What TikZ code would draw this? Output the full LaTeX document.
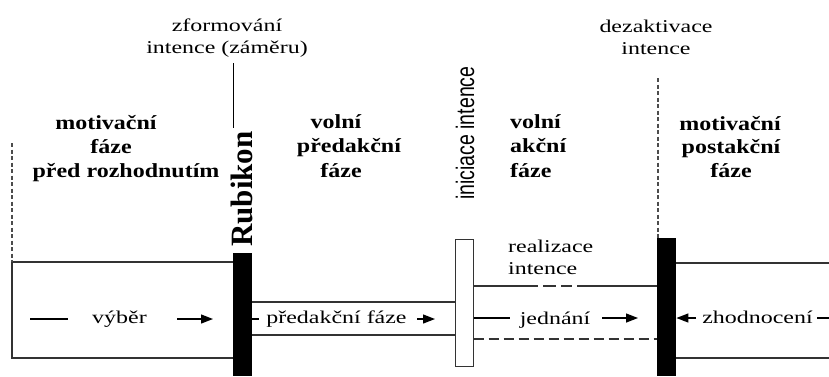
\documentclass[tikz,border=0pt]{standalone}
\usepackage{fontspec}
\setmainfont{Liberation Serif}[FakeStretch=1.33]
\newfontfamily\rubfont{Liberation Serif}
\newfontfamily\sidefont{Liberation Sans}
\usetikzlibrary{arrows.meta}
% one widened line of a phase heading
\newcommand{\phline}[1]{\scalebox{1.2}[1]{#1}}

\begin{document}
\begin{tikzpicture}[x=1pt,y=-1pt,
  lbl/.style={font=\fontsize{18}{22}\selectfont, inner sep=0pt, anchor=base},
  phasehead/.style={font=\rubfont\bfseries\fontsize{20}{24}\selectfont, inner sep=0pt, anchor=base},
  rule/.style={line width=1.2pt, draw=black!80},
  guide/.style={line width=1.3pt, draw=black!70, dash pattern=on 4pt off 2.5pt},
  arr/.style={line width=1.3pt, draw=black, -{Triangle[length=12pt,width=9pt]}},
  bar/.style={fill=black, inner sep=0pt, minimum width=19pt, anchor=north west},
]
\useasboundingbox (0,0) rectangle (829,376);

% bars and the initiation box
\node[bar, minimum height=123pt] (rubibar) at (233,253) {};
\node[bar, minimum height=138pt] (deactbar) at (657,238) {};
\node[draw=black!80, line width=1.2pt, fill=white, inner sep=0pt,
      minimum width=18pt, minimum height=127pt, anchor=north west] (initbox) at (454.5,238.5) {};

% phase boxes
\coordinate (chTL) at (12,262);
\coordinate (chBL) at (12,358);
\draw[rule] (rubibar.west |- chTL) -- (chTL) -- (chBL) -- (rubibar.west |- chBL);
\draw[rule] (rubibar.east |- 0,302) -- (initbox.west |- 0,302);
\draw[rule] (rubibar.east |- 0,335) -- (initbox.west |- 0,335);
\draw[rule] (initbox.east |- 0,286) -- (538,286) (543,286) -- (556,286)
            (561,286) -- (572,286) (577,286) -- (deactbar.west |- 0,286);
\draw[rule, dash pattern=on 10pt off 5pt] (initbox.east |- 0,339) -- (deactbar.west |- 0,339);
\coordinate (evR1) at (829,263);
\coordinate (evR2) at (829,358);
\draw[rule] (deactbar.east |- evR1) -- (evR1);
\draw[rule] (deactbar.east |- evR2) -- (evR2);

% guide lines
\coordinate (g1top) at (12,143);
\draw[guide] (g1top) -- (chTL);
\coordinate (g2top) at (658,78);
\draw[guide] (g2top) -- (g2top |- deactbar.north);
\coordinate (zfA) at (233.5,63);
\coordinate (zfB) at (233.5,128);
\draw[rule, draw=black] (zfA) -- (zfB);

% flow marks
\coordinate (v1) at (30,319);  \coordinate (v2) at (68,319);
\coordinate (v3) at (177,319); \coordinate (v4) at (213,319);
\draw[line width=1.3pt] (v1) -- (v2);
\draw[arr] (v3) -- (v4);
\coordinate (p1) at (259,319);
\draw[line width=1.3pt] (rubibar.east |- p1) -- (p1);
\coordinate (p2) at (417,319); \coordinate (p3) at (435,319);
\draw[arr] (p2) -- (p3);
\coordinate (j1) at (510,318);
\draw[line width=1.3pt] (initbox.east |- j1) -- (j1);
\coordinate (j2) at (602,318); \coordinate (j3) at (638,318);
\draw[arr] (j2) -- (j3);
\coordinate (z1) at (696,318);
\draw[arr] (z1) -- (deactbar.east |- z1);
\coordinate (z2) at (817,318); \coordinate (z3) at (829,318);
\draw[line width=1.3pt] (z2) -- (z3);

% labels (a multi-line node sits on the baseline of its last line)
\node[lbl] (vyber) at (119.5,323) {výběr};
\node[lbl] (predfaze) at (336.5,323) {předakční fáze};
\node[lbl] (jednani) at (555,324) {jednání};
\node[lbl] (zhodnoceni) at (757.5,323) {zhodnocení};
\node[lbl, align=left, anchor=base west] (realizace) at (508,274) {realizace\\intence};
\node[lbl, align=center] (zform) at (227,53) {zformování\\intence (záměru)};
\node[lbl, align=center] (dezakt) at (656,54) {dezaktivace\\intence};

% phase headings, one node per line
\node[phasehead] (h1a) at (106,129) {\phline{motivační}};
\node[phasehead] (h1b) at (111,153) {\phline{fáze}};
\node[phasehead] (h1c) at (126,177) {\phline{před rozhodnutím}};
\node[phasehead] (h2a) at (336,128) {\phline{volní}};
\node[phasehead] (h2b) at (349,152) {\phline{předakční}};
\node[phasehead] (h2c) at (341,177) {\phline{fáze}};
\node[phasehead, anchor=base west] (h3a) at (510,128) {\phline{volní}};
\node[phasehead, anchor=base west] (h3b) at (510,152) {\phline{akční}};
\node[phasehead, anchor=base west] (h3c) at (510,177) {\phline{fáze}};
\node[phasehead] (h4a) at (730,130) {\phline{motivační}};
\node[phasehead] (h4b) at (731,153) {\phline{postakční}};
\node[phasehead] (h4c) at (731,177) {\phline{fáze}};

\node[font=\rubfont\bfseries\fontsize{31}{31}\selectfont, rotate=90, anchor=base west, inner sep=0pt]
  (rubikon) at (252,247) {Rubikon};
\node[font=\sidefont\fontsize{19.5}{20}\selectfont, rotate=90, anchor=base west, inner sep=0pt]
  (iniciace) at (474,200) {\scalebox{1}[1.3]{iniciace intence}};
\end{tikzpicture}
\end{document}
